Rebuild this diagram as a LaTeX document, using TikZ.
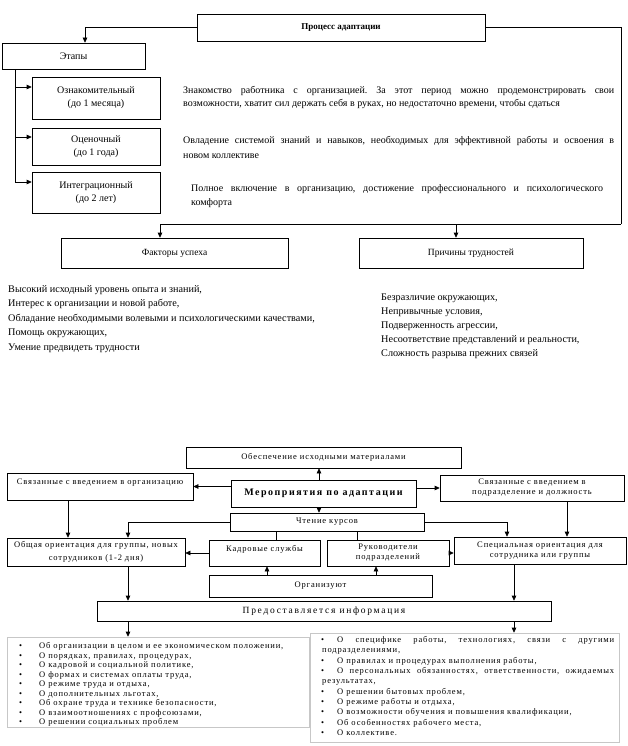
\documentclass[tikz,border=0pt]{standalone}
\usepackage{fontspec}
\setmainfont{Liberation Serif}
\usetikzlibrary{arrows.meta}
\frenchspacing
\newcommand{\myTop}{\fontsize{10}{13}\selectfont}
\newcommand{\myMid}{\fontsize{10.2}{14}\selectfont}
\newcommand{\myBot}{\fontsize{8.5}{10}\selectfont\addfontfeature{LetterSpace=10}}
\begin{document}
\begin{tikzpicture}[x=1pt,y=-1pt,
  box/.style={draw, line width=0.6pt, inner sep=0pt, align=center},
  bbox/.style={box, font=\myBot},
  arr/.style={-{Triangle[length=5pt,width=4.5pt]}, line width=0.6pt},
  ln/.style={line width=0.6pt},
  txt/.style={inner sep=0pt, anchor=base west},
  lbox/.style={draw=black!22, line width=0.6pt, inner sep=0pt}]
\fill[white] (0,0) rectangle (628,746);
\useasboundingbox (0,0) rectangle (628,746);

% ---------- top part ----------
\node[box, font=\fontsize{9}{11}\selectfont\bfseries, minimum width=288pt, minimum height=27pt] (proc) at (341,27.5) {Процесс адаптации};
\node[box, font=\myTop, minimum width=143pt, minimum height=26pt] (etapy) at (73.5,56) {Этапы};
\node[box, font=\myTop, minimum width=128pt, minimum height=42pt] (s1) at (96,98) {Ознакомительный\\(до 1 месяца)};
\node[box, font=\myTop, minimum width=128pt, minimum height=37pt] (s2) at (96,146.5) {Оценочный\\(до 1 года)};
\node[box, font=\myTop, minimum width=128pt, minimum height=41pt] (s3) at (96,192.5) {Интеграционный\\(до 2 лет)};
\node[box, font=\fontsize{9.5}{12}\selectfont, minimum width=227pt, minimum height=30pt] (fact) at (174.5,253) {Факторы успеха};
\node[box, font=\fontsize{9.5}{12}\selectfont, minimum width=224pt, minimum height=30pt] (prich) at (471,253) {Причины трудностей};

\node[txt, font=\myTop] (d1a) at (183,93.5) {\makebox[431pt][s]{Знакомство работника с организацией. За этот период можно продемонстрировать свои}};
\node[txt, font=\myTop] (d1b) at (183,106.5) {возможности, хватит сил держать себя в руках, но недостаточно времени, чтобы сдаться};
\node[txt, font=\myTop] (d2a) at (183,143.5) {\makebox[431pt][s]{Овладение системой знаний и навыков, необходимых для эффективной работы и освоения в}};
\node[txt, font=\myTop] (d2b) at (183,158.5) {новом коллективе};
\node[txt, font=\myTop] (d3a) at (191,191.5) {\makebox[412pt][s]{Полное включение в организацию, достижение профессионального и психологического}};
\node[txt, font=\myTop] (d3b) at (191,205.5) {комфорта};

\coordinate (ea) at ([xshift=11.5pt]etapy.north);
\draw[arr] (proc.west) -| (ea);
\coordinate (v) at ([xshift=14pt]etapy.south west);
\draw[arr] (v) |- ([yshift=11pt]s1.west);
\draw[arr] (v) |- ([yshift=9.5pt]s2.west);
\draw[arr] (v) |- ([yshift=10.5pt]s3.west);
\coordinate (rc) at (621,224);
\coordinate (fa) at ([xshift=-14.5pt]fact.north);
\coordinate (pa) at ([xshift=-15pt]prich.north);
\draw[ln] (proc.east) -| (rc);
\draw[arr] (rc) -| (fa);
\draw[arr] (pa |- rc) -- (pa);

\foreach \t [count=\i] in {{Высокий исходный уровень опыта и знаний,},{Интерес к организации и новой работе,},{Обладание необходимыми волевыми и психологическими качествами,},{Помощь окружающих,},{Умение предвидеть трудности}}
  \node[txt, font=\myMid] (fl\i) at (8,{292+(\i-1)*14.5}) {\t};
\foreach \t [count=\i] in {{Безразличие окружающих,},{Непривычные условия,},{Подверженность агрессии,},{Несоответствие представлений и реальности,},{Сложность разрыва прежних связей}}
  \node[txt, font=\myMid] (pl\i) at (381,{300+(\i-1)*14}) {\t};

% ---------- bottom part ----------
\node[bbox, minimum width=275pt, minimum height=21pt] (obes) at (323.5,457.5) {Обеспечение исходными материалами};
\node[bbox, minimum width=186pt, minimum height=27pt] (svo) at (100,486.5) {Связанные с введением в организацию\\\phantom{X}};
\node[box, font=\fontsize{10}{12}\selectfont\bfseries\addfontfeature{LetterSpace=15}, minimum width=185pt, minimum height=27pt] (mer) at (323.5,493.5) {Мероприятия по адаптации};
\node[bbox, minimum width=184pt, minimum height=26pt] (svp) at (532,488) {Связанные с введением в\\подразделение и должность};
\node[bbox, minimum width=194pt, minimum height=18pt] (cht) at (327,522) {Чтение курсов};
\node[bbox, minimum width=178pt, minimum height=28pt] (obsh) at (96,552) {Общая ориентация для группы, новых\\[3pt]сотрудников (1-2 дня)};
\node[bbox, minimum width=111pt, minimum height=26pt] (kadr) at (264.5,553) {Кадровые службы\\\phantom{X}};
\node[bbox, minimum width=122pt, minimum height=26pt] (ruk) at (388,553) {Руководители\\подразделений};
\node[bbox, minimum width=172pt, minimum height=27pt] (spec) at (540,550.5) {Специальная ориентация для\\сотрудника или группы};
\node[bbox, minimum width=223pt, minimum height=22pt] (org) at (320.5,586) {Организуют};
\node[box, font=\fontsize{9.5}{12}\selectfont\addfontfeature{LetterSpace=18}, minimum width=454pt, minimum height=20pt] (pred) at (324,611) {Предоставляется информация};
\node[lbox, minimum width=302pt, minimum height=90pt] (listL) at (158,682) {};
\node[lbox, minimum width=309pt, minimum height=109pt] (listR) at (464.5,687.5) {};

\coordinate (m1) at ([xshift=-4.5pt]mer.north);
\draw[arr] (m1) -- (m1 |- obes.south);
\draw[arr] (mer.west |- svo.east) -- (svo.east);
\draw[arr] (mer.east |- svp.west) -- (svp.west);
\coordinate (m2) at ([xshift=-4.5pt]mer.south);
\draw[arr] (m2) -- (m2 |- cht.north);
\draw[arr] (cht.west) -| ([xshift=32pt]obsh.north);
\coordinate (a1) at ([xshift=-32pt]svo.south);
\draw[arr] (a1) -- (a1 |- obsh.north);
\draw[arr] (cht.east) -| ([xshift=-33pt]spec.north);
\coordinate (a2) at ([xshift=35pt]svp.south);
\draw[arr] (a2) -- (a2 |- spec.north);
\coordinate (k1) at ([xshift=11.5pt]kadr.north);
\draw[ln] (k1 |- cht.south) -- (k1);
\coordinate (k2) at ([xshift=-31pt]ruk.north);
\draw[ln] (k2 |- cht.south) -- (k2);
\draw[arr] (kadr.west) -- (kadr.west -| obsh.east);
\draw[arr] (ruk.east) -- (ruk.east -| spec.west);
\coordinate (o1) at ([xshift=2.5pt]kadr.south);
\draw[arr] (o1 |- org.north) -- (o1);
\coordinate (o2) at ([xshift=-12pt]ruk.south);
\draw[arr] (o2 |- org.north) -- (o2);
\coordinate (p1) at ([xshift=32pt]obsh.south);
\draw[arr] (p1) -- (p1 |- pred.north);
\coordinate (p2) at ([xshift=-26pt]spec.south);
\draw[arr] (p2) -- (p2 |- pred.north);
\draw[arr] (p1 |- pred.south) -- (p1 |- listL.north);
\draw[arr] (p2 |- pred.south) -- (p2 |- listR.north);

\foreach \t [count=\i] in {{Об организации в целом и ее экономическом положении,},{О порядках, правилах, процедурах,},{О кадровой и социальной политике,},{О формах и системах оплаты труда,},{О режиме труда и отдыха,},{О дополнительных льготах,},{Об охране труда и технике безопасности,},{О взаимоотношениях с профсоюзами,},{О решении социальных проблем}}
{
  \node[txt, font=\myBot] (lb\i) at (19,{648.5+(\i-1)*9.5}) {•};
  \node[txt, font=\myBot] (lt\i) at (39,{648.5+(\i-1)*9.5}) {\t};
}
\foreach \j in {1,3,4,6,7,8,9,10}
  \node[txt, font=\myBot] (rb\j) at (321,{642.5+(\j-1)*10.33}) {•};
\node[txt, font=\myBot] (rt1) at (337,642.5) {\makebox[277pt][s]{О специфике работы, технологиях, связи с другими}};
\node[txt, font=\myBot] (rt2) at (322,652.83) {подразделениями,};
\node[txt, font=\myBot] (rt3) at (337,663.16) {О правилах и процедурах выполнения работы,};
\node[txt, font=\myBot] (rt4) at (337,673.49) {\makebox[277pt][s]{О персональных обязанностях, ответственности, ожидаемых}};
\node[txt, font=\myBot] (rt5) at (322,683.82) {результатах,};
\node[txt, font=\myBot] (rt6) at (337,694.15) {О решении бытовых проблем,};
\node[txt, font=\myBot] (rt7) at (337,704.48) {О режиме работы и отдыха,};
\node[txt, font=\myBot] (rt8) at (337,714.81) {О возможности обучения и повышения квалификации,};
\node[txt, font=\myBot] (rt9) at (337,725.14) {Об особенностях рабочего места,};
\node[txt, font=\myBot] (rt10) at (337,735.47) {О коллективе.};
\end{tikzpicture}
\end{document}
